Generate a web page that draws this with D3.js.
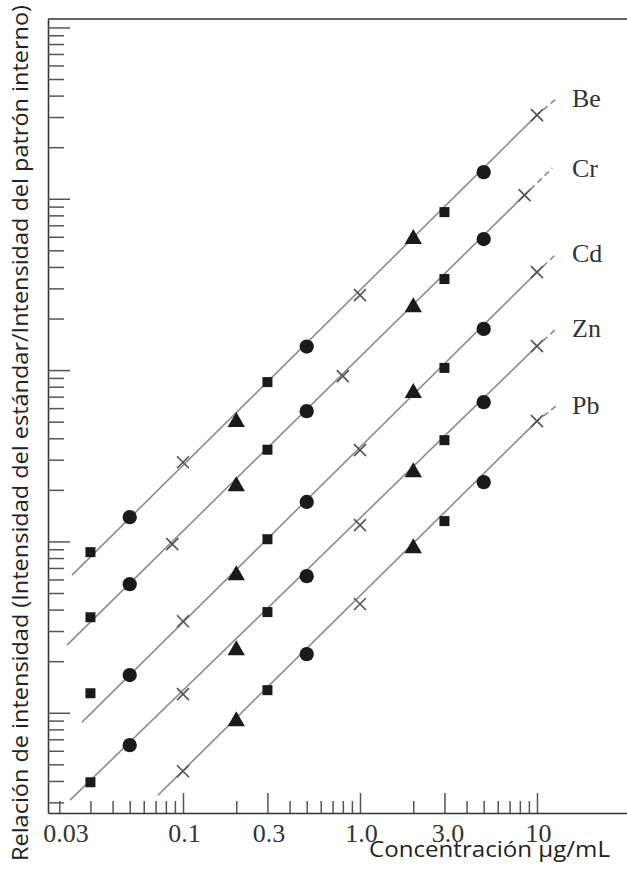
<!DOCTYPE html>
<html><head><meta charset="utf-8">
<script src="https://cdn.jsdelivr.net/npm/d3@7"></script>
<style>body{margin:0;background:#fff}svg{display:block}</style>
</head><body>
<script>
// ---- data ----
const elements = ["Be", "Cr", "Cd", "Zn", "Pb"];
const stdConc = [0.03, 0.05, 0.1, 0.2, 0.3, 0.5, 1, 2, 3, 5, 10];
const stdShapes = ["square","circle","cross","triangle","square","circle","cross","triangle","square","circle","cross"];

const beConc = stdConc;
const beRatio = [0.0866, 0.1386, 0.290, 0.504, 0.851, 1.372, 2.74, 5.90, 8.36, 14.3, 30.8];
const crConc = [0.03, 0.05, 0.087, 0.2, 0.3, 0.5, 0.8, 2, 3, 5, 8.5];
const crRatio = [0.0361, 0.0563, 0.0964, 0.213, 0.343, 0.576, 0.923, 2.36, 3.40, 5.82, 10.5];
const cdConc = stdConc;
const cdRatio = [0.0130, 0.0166, 0.0342, 0.0644, 0.103, 0.170, 0.341, 0.744, 1.03, 1.74, 3.73];
const znConc = stdConc;
const znRatio = [0.00393, 0.00647, 0.01285, 0.0235, 0.0387, 0.0627, 0.1245, 0.257, 0.390, 0.650, 1.38];
const pbConc = [0.1, 0.2, 0.3, 0.5, 1, 2, 3, 5, 10];
const pbRatio = [0.00456, 0.00905, 0.01355, 0.0220, 0.0431, 0.0926, 0.1314, 0.2218, 0.504];

// fitted line extents (start of solid line, end of dashed extension)
const lineStartConc  = [0.0236, 0.0221, 0.0269, 0.0230, 0.0722];
const lineStartRatio = [0.0636, 0.0248, 0.00881, 0.00309, 0.00330];
const lineEndConc    = [13.0, 12.2, 13.0, 13.0, 13.0];
const lineEndRatio   = [38.7, 15.1, 4.82, 1.76, 0.625];

const xLabelValues = [0.03, 0.1, 0.3, 1, 3, 10];
const xLabelTexts  = ["0.03", "0.1", "0.3", "1.0", "3.0", "10"];
const xMajorTicks  = [0.1, 0.3, 1, 3, 10];
const xMinorTicks  = [0.02,0.03,0.04,0.05,0.06,0.07,0.08,0.09,0.2,0.4,0.5,0.6,0.7,0.8,0.9,2,4,5,6,7,8,9];

const xTitle = "Concentración µg/mL";
const yTitle = "Relación de intensidad (Intensidad del estándar/Intensidad del patrón interno)";

// ---- chart ----
const W = 627, H = 875;
const svg = d3.select("body").append("svg").attr("width", W).attr("height", H);

const x = d3.scaleLog().domain([0.01727, 32.25]).range([48, 627]);
const y = d3.scaleLog().domain([0.0026, 112]).range([813, 19]);

// y ticks
const yMinor = [], yMajor = [];
[0.001, 0.01, 0.1, 1, 10, 100].forEach(d => {
  for (let m = 1; m <= 9; m++) {
    const v = m * d;
    if (v >= 0.0026 && v <= 112) (m === 1 ? yMajor : yMinor).push(v);
  }
});

const tickColor = "#555";
const gYmin = svg.append("g").attr("transform", "translate(48,0)")
  .call(d3.axisLeft(y).tickValues(yMinor).tickSize(-16).tickSizeOuter(0).tickFormat(""));
const gYmaj = svg.append("g").attr("transform", "translate(48,0)")
  .call(d3.axisLeft(y).tickValues(yMajor).tickSize(-22).tickSizeOuter(0).tickFormat(""));
gYmaj.select(".domain").remove();
[gYmin, gYmaj].forEach(g => g.selectAll(".tick line").attr("stroke", tickColor).attr("stroke-width", 1.5));
gYmin.select(".domain").attr("stroke", "#333").attr("stroke-width", 1.6);

const gXmin = svg.append("g").attr("transform", "translate(0,813)")
  .call(d3.axisBottom(x).tickValues(xMinorTicks).tickSize(-12).tickSizeOuter(0).tickFormat(""));
const gXmaj = svg.append("g").attr("transform", "translate(0,813)")
  .call(d3.axisBottom(x).tickValues(xMajorTicks).tickSize(-20).tickSizeOuter(0).tickFormat(""));
gXmaj.select(".domain").remove();
[gXmin, gXmaj].forEach(g => g.selectAll(".tick line").attr("stroke", tickColor).attr("stroke-width", 1.5));
gXmin.select(".domain").attr("stroke", "#333").attr("stroke-width", 1.6);

const gXlab = svg.append("g").attr("transform", "translate(0,813)")
  .call(d3.axisBottom(x).tickValues(xLabelValues).tickSize(0).tickPadding(11)
    .tickFormat((d, i) => xLabelTexts[i]));
gXlab.select(".domain").remove();
gXlab.selectAll("text")
  .attr("font-family", "'Liberation Serif', 'Times New Roman', serif")
  .attr("font-size", 26).attr("fill", "#333")
  .attr("dx", (d) => d === 0.03 ? -25 : (d === 3 ? 3 : 1));

// top frame line
svg.append("line").attr("x1", 48).attr("x2", W).attr("y1", y(112)).attr("y2", y(112))
  .attr("stroke", "#333").attr("stroke-width", 1.6);

// series
const series = [
  {name: "Be", conc: beConc, ratio: beRatio, shapes: stdShapes},
  {name: "Cr", conc: crConc, ratio: crRatio, shapes: stdShapes},
  {name: "Cd", conc: cdConc, ratio: cdRatio, shapes: stdShapes},
  {name: "Zn", conc: znConc, ratio: znRatio, shapes: stdShapes},
  {name: "Pb", conc: pbConc, ratio: pbRatio, shapes: stdShapes.slice(2)}
];

const lineColor = "#8c8c8c";
series.forEach((s, i) => {
  const n = s.conc.length;
  const last = [s.conc[n-1], s.ratio[n-1]];
  const start = [lineStartConc[i], lineStartRatio[i]];
  const end = [lineEndConc[i], lineEndRatio[i]];
  const line = d3.line().x(d => x(d[0])).y(d => y(d[1]));
  svg.append("path").attr("d", line([start, last]))
    .attr("fill", "none").attr("stroke", lineColor).attr("stroke-width", 1.6);
  svg.append("path").attr("d", line([last, end]))
    .attr("fill", "none").attr("stroke", lineColor).attr("stroke-width", 1.6)
    .attr("stroke-dasharray", "6,4").attr("stroke-dashoffset", -8);

  const pts = s.conc.map((c, k) => ({c, r: s.ratio[k], shape: s.shapes[k]}));
  const g = svg.append("g");
  pts.forEach(p => {
    const px = x(p.c), py = y(p.r);
    if (p.shape === "cross") {
      const a = 6;
      g.append("path").attr("d", `M${px-a},${py-a}L${px+a},${py+a}M${px-a},${py+a}L${px+a},${py-a}`)
        .attr("stroke", "#555").attr("stroke-width", 1.6).attr("fill", "none");
    } else {
      const type = p.shape === "square" ? d3.symbolSquare : p.shape === "circle" ? d3.symbolCircle : d3.symbolTriangle;
      const size = p.shape === "square" ? 100 : p.shape === "circle" ? 160 : 130;
      g.append("path").attr("d", d3.symbol().type(type).size(size)())
        .attr("transform", `translate(${px},${py + (p.shape === "triangle" ? 1 : 0)})`)
        .attr("fill", "#1a1a1a");
    }
  });

  svg.append("text").attr("x", 572).attr("y", y(end[1]) + 9)
    .attr("font-family", "'Liberation Serif', 'Times New Roman', serif")
    .attr("font-size", 26).attr("fill", "#333").text(s.name);
});

// titles
svg.append("text").attr("x", 369).attr("y", 857)
  .attr("font-family", "'Open Sans', sans-serif").attr("font-size", 21).attr("fill", "#222")
  .attr("textLength", 241).attr("lengthAdjust", "spacingAndGlyphs").text(xTitle);

svg.append("text").attr("transform", "translate(28,433) rotate(-90)")
  .attr("text-anchor", "middle")
  .attr("font-family", "'Open Sans', sans-serif").attr("font-size", 21).attr("fill", "#222")
  .attr("textLength", 856).attr("lengthAdjust", "spacingAndGlyphs").text(yTitle);
</script>
</body></html>
